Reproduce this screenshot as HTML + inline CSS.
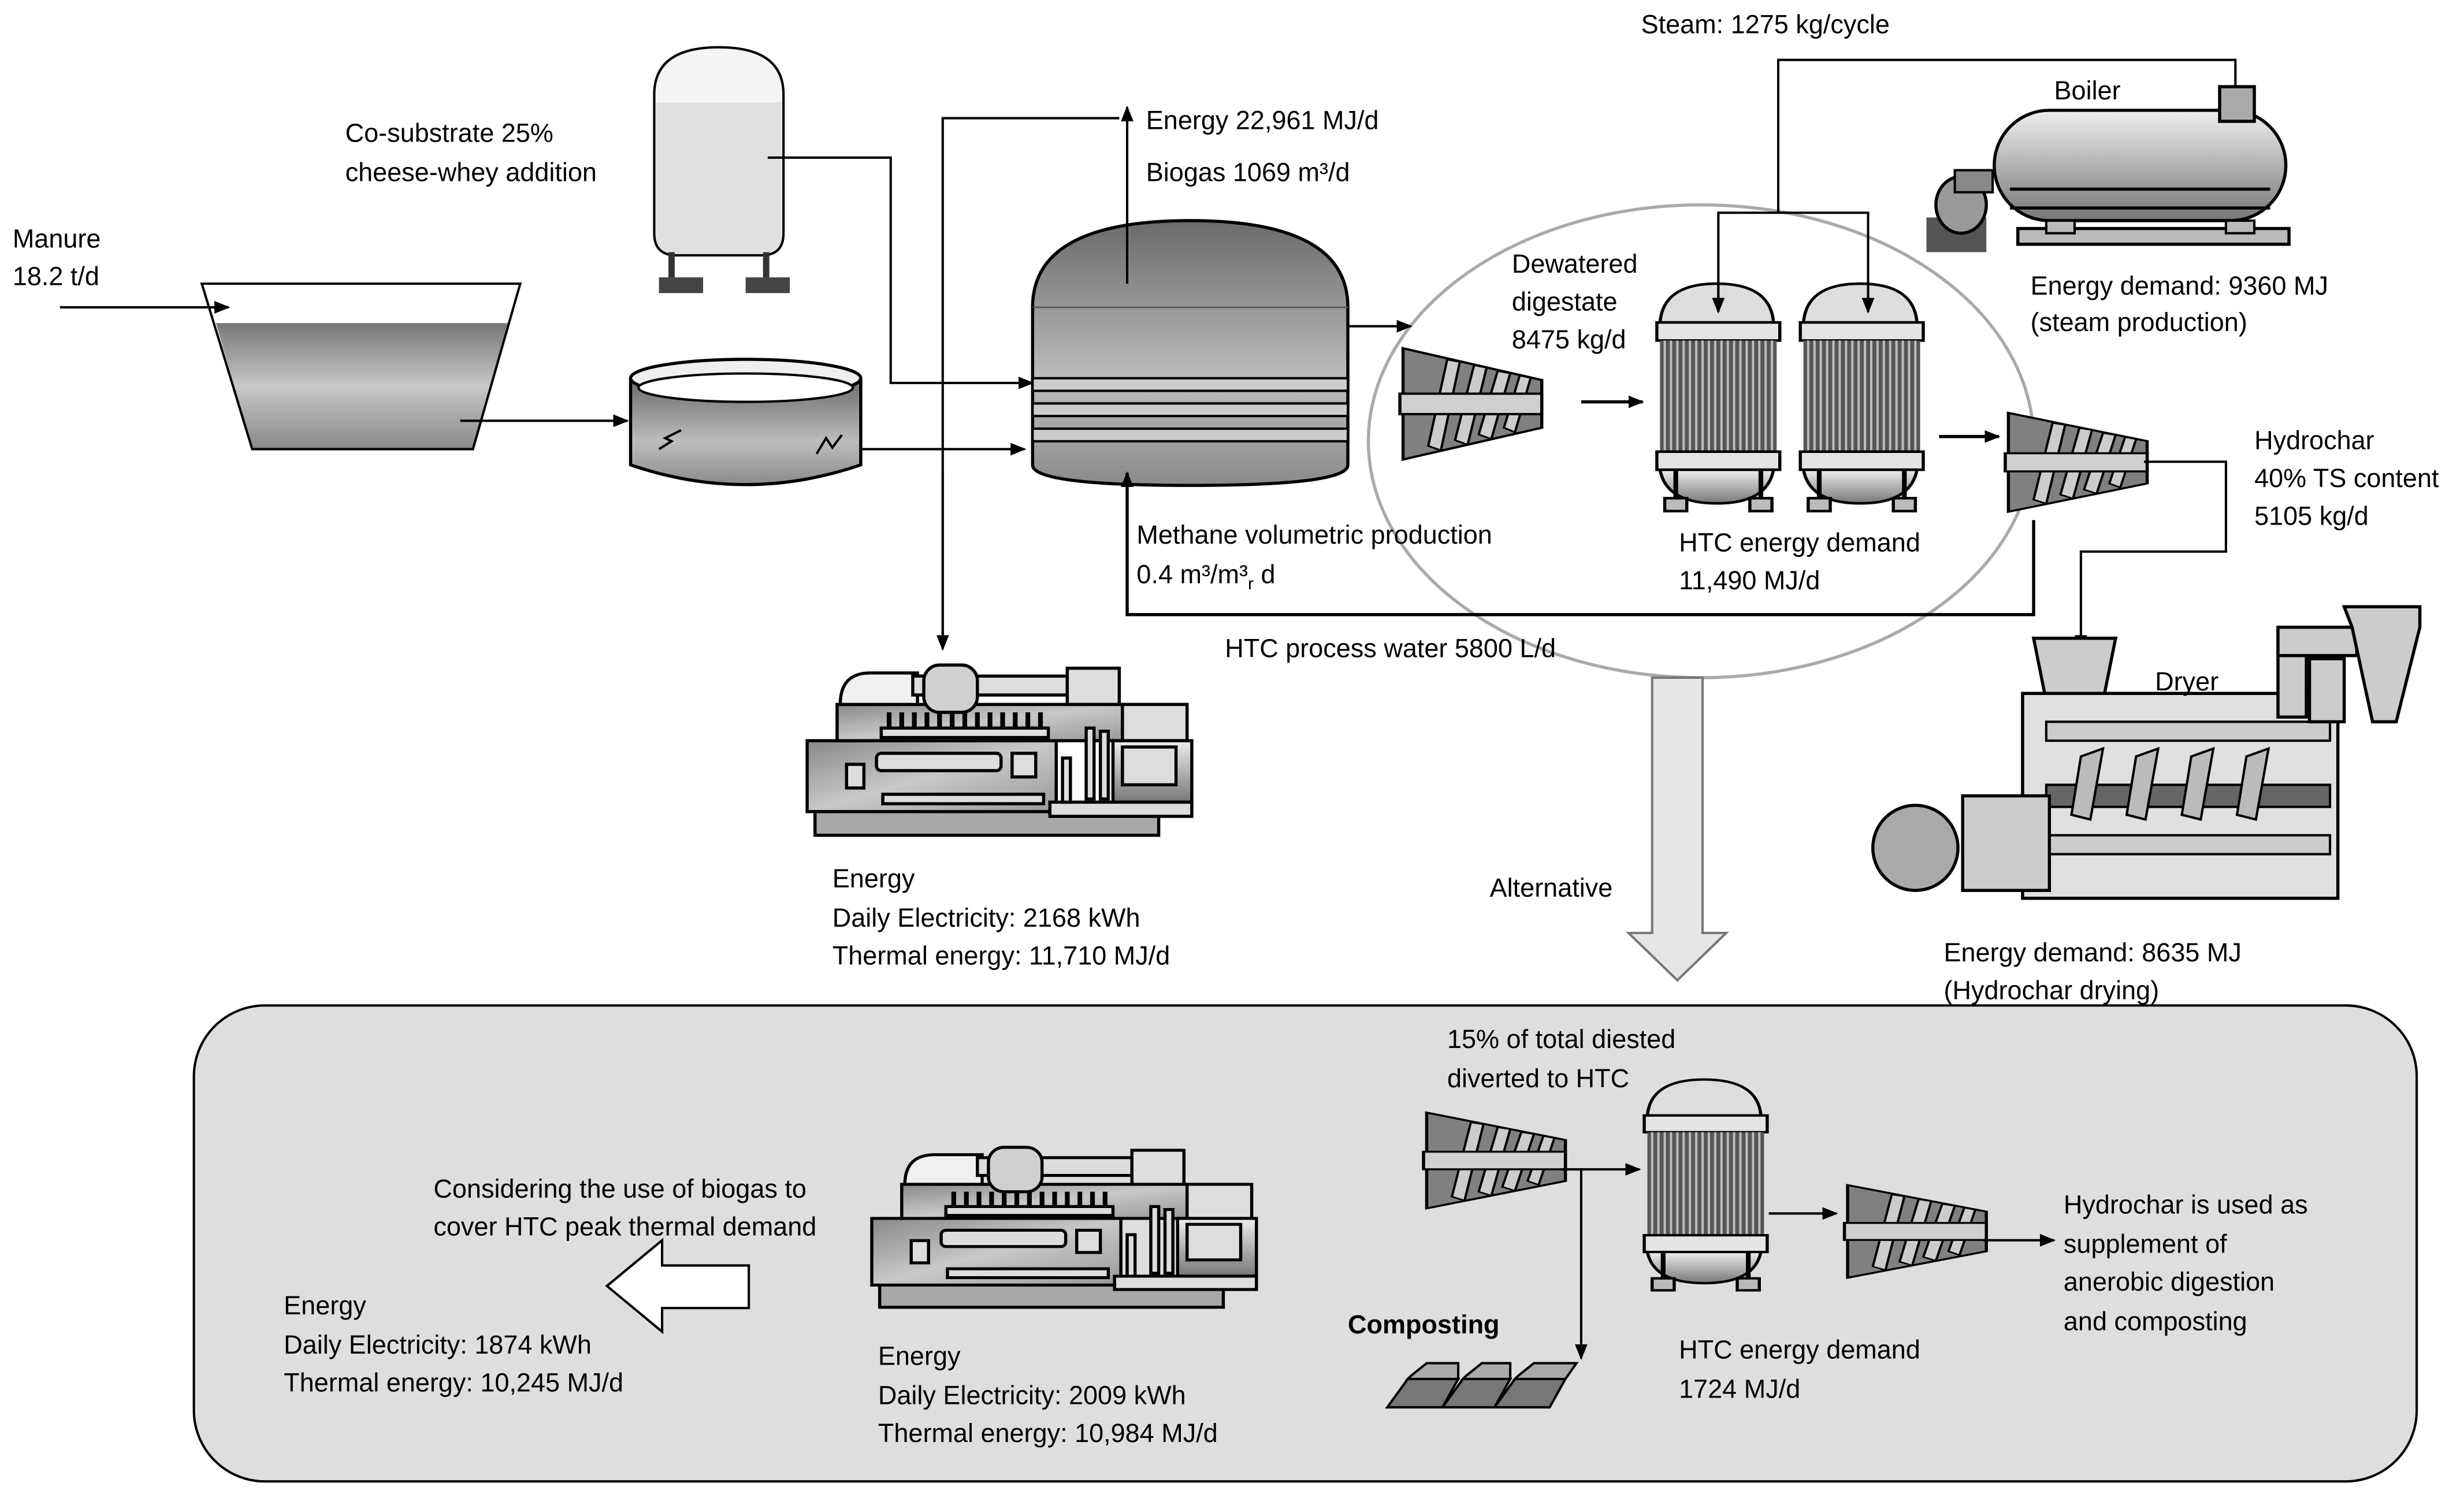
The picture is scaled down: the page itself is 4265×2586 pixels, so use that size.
<!DOCTYPE html>
<html><head><meta charset="utf-8"><style>
html,body{margin:0;padding:0;background:#fff;width:4265px;height:2586px;overflow:hidden}
svg{display:block}
text{font-family:"Liberation Sans",sans-serif;font-size:16.5px;fill:#000}
</style></head><body>
<svg width="4265" height="2586" viewBox="0 0 1563 948" preserveAspectRatio="none" xmlns="http://www.w3.org/2000/svg">
<defs>
<marker id="a" markerWidth="10" markerHeight="10" refX="9" refY="5" orient="auto" markerUnits="userSpaceOnUse"><path d="M0,1 L10,5 L0,9 Z" fill="#000"/></marker>
<linearGradient id="gv" x1="0" y1="0" x2="0" y2="1"><stop offset="0" stop-color="#777"/><stop offset="0.5" stop-color="#c8c8c8"/><stop offset="1" stop-color="#888"/></linearGradient>
<linearGradient id="gd" x1="0" y1="0" x2="0" y2="1"><stop offset="0" stop-color="#6a6a6a"/><stop offset="0.6" stop-color="#bdbdbd"/><stop offset="1" stop-color="#8a8a8a"/></linearGradient>
<linearGradient id="gh" x1="0" y1="0" x2="0" y2="1"><stop offset="0" stop-color="#eee"/><stop offset="1" stop-color="#777"/></linearGradient>
<linearGradient id="gc" x1="0" y1="0" x2="1" y2="1"><stop offset="0" stop-color="#888"/><stop offset="0.5" stop-color="#c8c8c8"/><stop offset="1" stop-color="#999"/></linearGradient>
<g id="press">
<path d="M0,0 L88,28 L88,70 L0,98 Z" fill="#808080" stroke="#000" stroke-width="2"/>
<g fill="#ccc" stroke="#000" stroke-width="1.5">
<path d="M28,10 l8,2 l-12,78 l-8,-4Z"/><path d="M45,15 l8,2 l-12,68 l-8,-4Z"/><path d="M60,20 l8,2 l-12,58 l-8,-4Z"/><path d="M74,24 l7,2 l-10,48 l-7,-4Z"/>
</g>
<rect x="-2" y="40" width="90" height="18" fill="#d0d0d0" stroke="#000" stroke-width="2"/>
</g>
<g id="reactor">
<path d="M2,30 Q4,0 38,0 Q72,0 74,30 Z" fill="#ddd" stroke="#000" stroke-width="2"/>
<rect x="0" y="30" width="78" height="14" fill="#e4e4e4" stroke="#000" stroke-width="2"/>
<rect x="2" y="44" width="74" height="86" fill="#555"/>
<g stroke="#bbb" stroke-width="1.5">
<path d="M5,44v86M9,44v86M13,44v86M17,44v86M21,44v86M25,44v86M29,44v86M33,44v86M37,44v86M41,44v86M45,44v86M49,44v86M53,44v86M57,44v86M61,44v86M65,44v86M69,44v86M73,44v86"/></g>
<rect x="0" y="130" width="78" height="14" fill="#e4e4e4" stroke="#000" stroke-width="2"/>
<path d="M2,144 Q6,170 38,170 Q70,170 74,144Z" fill="url(#gh)" stroke="#000" stroke-width="2"/>
<path d="M12,144v26M66,144v26" stroke="#000" stroke-width="3"/>
<rect x="5" y="166" width="14" height="10" fill="#bbb" stroke="#000" stroke-width="2"/><rect x="59" y="166" width="14" height="10" fill="#bbb" stroke="#000" stroke-width="2"/>
</g>
<g id="chp" stroke="#000" stroke-width="2">
<rect x="5" y="90" width="218" height="18" fill="#a8a8a8"/>
<rect x="0" y="48" width="158" height="45" fill="url(#gc)"/>
<rect x="19" y="25" width="181" height="23" fill="url(#gc)"/>
<rect x="200" y="25" width="41" height="23" fill="#ddd"/>
<rect x="194" y="48" width="50" height="39" fill="url(#gh)"/>
<rect x="200" y="52" width="34" height="24" fill="#ddd"/>
<rect x="154" y="87" width="90" height="9" fill="#ddd"/>
<path d="M21,25 Q21,5 40,5 L70,5 L70,25Z" fill="#f0f0f0"/>
<rect x="67" y="7" width="98" height="12" fill="#ddd"/>
<rect x="74" y="0" width="34" height="30" rx="10" fill="#d0d0d0"/>
<rect x="165" y="2" width="33" height="23" fill="#ddd"/>
<rect x="47" y="40" width="106" height="6" fill="#ddd"/>
<path d="M52,30v10M60,30v10M68,30v10M76,30v10M84,30v10M92,30v10M100,30v10M108,30v10M116,30v10M124,30v10M132,30v10M140,30v10M148,30v10" stroke-width="3"/>
<rect x="44" y="56" width="79" height="11" rx="3" fill="#ddd"/>
<rect x="130" y="56" width="15" height="15" fill="#ddd"/>
<rect x="25" y="63" width="11" height="15" fill="#ddd"/>
<rect x="48" y="82" width="102" height="6" fill="#ddd"/>
<rect x="162" y="59" width="5" height="28" fill="#ddd"/><rect x="177" y="40" width="5" height="45" fill="#ddd"/><rect x="186" y="42" width="5" height="43" fill="#ddd"/>
</g>
</defs>
<rect width="1563" height="948" fill="#fff"/>
<!-- bottom panel -->
<rect x="123" y="638" width="1410" height="302" rx="45" fill="#dedede" stroke="#000" stroke-width="1.5"/>
<!-- big ellipse -->
<ellipse cx="1079" cy="280" rx="211" ry="150" fill="none" stroke="#aaa" stroke-width="2"/>

<!-- manure -->
<text x="8" y="157">Manure</text><text x="8" y="181">18.2 t/d</text>
<line x1="38" y1="195" x2="145" y2="195" stroke="#000" stroke-width="1.5" marker-end="url(#a)"/>
<path d="M137,205 L322,205 L300,285 L160,285Z" fill="url(#gv)"/>
<path d="M128,180 L330,180 L300,285 L160,285Z" fill="none" stroke="#000" stroke-width="1.5"/>
<line x1="292" y1="267" x2="398" y2="267" stroke="#000" stroke-width="1.5" marker-end="url(#a)"/>
<!-- tank -->
<path d="M400,240 L400,295 Q473,320 546,295 L546,240" fill="url(#gd)" stroke="#000" stroke-width="2"/>
<ellipse cx="473" cy="240" rx="73" ry="12" fill="#eee" stroke="#000" stroke-width="2"/>
<ellipse cx="473" cy="246" rx="68" ry="9" fill="#fff" stroke="#000" stroke-width="1.5"/>
<path d="M418,285 l8,-5 l-4,-2 l10,-5" stroke="#000" fill="none" stroke-width="1.5"/>
<path d="M518,288 l6,-10 l4,6 l6,-8" stroke="#000" fill="none" stroke-width="1.5"/>
<line x1="546" y1="285" x2="650" y2="285" stroke="#000" stroke-width="1.5" marker-end="url(#a)"/>
<!-- whey vessel -->
<text x="219" y="90">Co-substrate 25%</text><text x="219" y="115">cheese-whey addition</text>
<path d="M415,60 Q415,30 456,30 Q497,30 497,60 L497,148 Q497,162 483,162 L429,162 Q415,162 415,148Z" fill="#f4f4f4" stroke="#000" stroke-width="1.5"/>
<path d="M416,65 L496,65 L496,148 Q496,161 483,161 L429,161 Q416,161 416,148Z" fill="#e0e0e0"/>
<path d="M426,160v16M486,160v16" stroke="#333" stroke-width="4"/>
<rect x="418" y="176" width="28" height="10" fill="#444"/><rect x="473" y="176" width="28" height="10" fill="#444"/>
<polyline points="487,100 565,100 565,243 655,243" fill="none" stroke="#000" stroke-width="1.5" marker-end="url(#a)"/>
<!-- digester -->
<path d="M655,195 Q655,140 755,140 Q855,140 855,195 L855,295 Q855,308 755,308 Q655,308 655,295Z" fill="url(#gd)" stroke="#000" stroke-width="2"/>
<line x1="655" y1="195" x2="855" y2="195" stroke="#555" stroke-width="1"/>
<g fill="#ccc" stroke="#000" stroke-width="1.5"><rect x="655" y="240" width="200" height="8"/><rect x="655" y="256" width="200" height="8"/><rect x="655" y="272" width="200" height="8"/></g>
<line x1="715" y1="180" x2="715" y2="68" stroke="#000" stroke-width="1.5" marker-end="url(#a)"/>
<polyline points="598,410 598,75 710,75" fill="none" stroke="#000" stroke-width="1.5"/>
<line x1="598" y1="300" x2="598" y2="412" stroke="#000" stroke-width="1.5" marker-end="url(#a)"/>
<text x="727" y="82">Energy 22,961 MJ/d</text>
<text x="727" y="115">Biogas 1069 m³/d</text>
<line x1="855" y1="207" x2="895" y2="207" stroke="#000" stroke-width="1.5" marker-end="url(#a)"/>
<text x="721" y="345">Methane volumetric production</text>
<text x="721" y="370">0.4 m³/m³<tspan font-size="11" dy="4">r</tspan><tspan dy="-4"> d</tspan></text>
<polyline points="1290,330 1290,390 715,390 715,300" fill="none" stroke="#000" stroke-width="2" marker-end="url(#a)"/>
<text x="777" y="417">HTC process water 5800 L/d</text>
<!-- press 1 -->
<use href="#press" transform="translate(890,221) scale(1,0.72)"/>
<text x="959" y="173">Dewatered</text><text x="959" y="197">digestate</text><text x="959" y="221">8475 kg/d</text>
<line x1="1003" y1="255" x2="1042" y2="255" stroke="#000" stroke-width="2" marker-end="url(#a)"/>
<!-- reactors -->
<use href="#reactor" transform="translate(1051,180) scale(1,0.82)"/>
<use href="#reactor" transform="translate(1142,180) scale(1,0.82)"/>
<polyline points="1128,135 1128,38 1418,38 1418,55" fill="none" stroke="#000" stroke-width="1.5"/>
<polyline points="1090,195 1090,135 1185,135 1185,195" fill="none" stroke="#000" stroke-width="1.5"/>
<line x1="1090" y1="180" x2="1090" y2="198" stroke="#000" stroke-width="1.5" marker-end="url(#a)"/>
<line x1="1185" y1="180" x2="1185" y2="198" stroke="#000" stroke-width="1.5" marker-end="url(#a)"/>
<text x="1041" y="21">Steam: 1275 kg/cycle</text>
<text x="1065" y="350">HTC energy demand</text><text x="1065" y="374">11,490 MJ/d</text>
<line x1="1230" y1="277" x2="1268" y2="277" stroke="#000" stroke-width="2" marker-end="url(#a)"/>
<!-- boiler -->
<rect x="1265" y="70" width="185" height="70" rx="35" fill="url(#gh)" stroke="#000" stroke-width="2"/>
<line x1="1275" y1="120" x2="1440" y2="120" stroke="#000" stroke-width="2"/>
<line x1="1275" y1="132" x2="1440" y2="132" stroke="#000" stroke-width="2"/>
<rect x="1408" y="55" width="22" height="22" fill="#aaa" stroke="#000" stroke-width="2"/>
<rect x="1280" y="145" width="172" height="10" fill="#bbb" stroke="#000" stroke-width="2"/>
<rect x="1298" y="140" width="18" height="8" fill="#bbb" stroke="#000" stroke-width="1.5"/><rect x="1412" y="140" width="18" height="8" fill="#bbb" stroke="#000" stroke-width="1.5"/>
<rect x="1222" y="138" width="38" height="22" fill="#555"/>
<ellipse cx="1244" cy="130" rx="16" ry="18" fill="#999" stroke="#000" stroke-width="2"/>
<rect x="1240" y="108" width="24" height="14" fill="#888" stroke="#000" stroke-width="1.5"/>
<text x="1303" y="63">Boiler</text>
<text x="1288" y="187">Energy demand: 9360 MJ</text><text x="1288" y="210">(steam production)</text>
<!-- press 2 -->
<use href="#press" transform="translate(1274,262) scale(1,0.64)"/>
<polyline points="1360,293 1412,293 1412,350 1320,350 1320,412" fill="none" stroke="#000" stroke-width="1.5" marker-end="url(#a)"/>
<text x="1430" y="285">Hydrochar</text><text x="1430" y="309">40% TS content</text><text x="1430" y="333">5105 kg/d</text>
<!-- dryer -->
<path d="M1290,405 L1342,405 L1335,440 L1297,440Z" fill="#ccc" stroke="#000" stroke-width="2"/>
<rect x="1283" y="440" width="200" height="130" fill="#e0e0e0" stroke="#000" stroke-width="2"/>
<rect x="1298" y="458" width="180" height="12" fill="#ccc" stroke="#000" stroke-width="1.5"/>
<rect x="1298" y="530" width="180" height="12" fill="#ccc" stroke="#000" stroke-width="1.5"/>
<rect x="1298" y="498" width="180" height="14" fill="#666" stroke="#000" stroke-width="1.5"/>
<g fill="#bbb" stroke="#000" stroke-width="1.5"><path d="M1320,480 l14,-5 l-8,45 l-12,-3Z"/><path d="M1355,480 l14,-5 l-8,45 l-12,-3Z"/><path d="M1390,480 l14,-5 l-8,45 l-12,-3Z"/><path d="M1425,480 l14,-5 l-8,45 l-12,-3Z"/></g>
<rect x="1245" y="505" width="55" height="60" fill="#ccc" stroke="#000" stroke-width="2"/>
<circle cx="1215" cy="538" r="27" fill="#aaa" stroke="#000" stroke-width="2"/>
<rect x="1445" y="400" width="18" height="55" fill="#ccc" stroke="#000" stroke-width="2"/>
<rect x="1445" y="398" width="50" height="18" fill="#ccc" stroke="#000" stroke-width="2"/>
<rect x="1465" y="418" width="22" height="40" fill="#ccc" stroke="#000" stroke-width="2"/>
<path d="M1487,385 L1535,385 L1535,398 L1520,458 L1505,458 L1492,398Z" fill="#ccc" stroke="#000" stroke-width="2"/>
<text x="1367" y="438">Dryer</text>
<text x="1233" y="610">Energy demand: 8635 MJ</text><text x="1233" y="634">(Hydrochar drying)</text>
<!-- CHP 1 -->
<use href="#chp" transform="translate(512,422)"/>
<text x="528" y="563">Energy</text><text x="528" y="588">Daily Electricity: 2168 kWh</text><text x="528" y="612">Thermal energy:  11,710 MJ/d</text>
<!-- big arrow -->
<path d="M1048,430 L1080,430 L1080,592 L1095,592 L1064,622 L1033,592 L1048,592Z" fill="#e6e6e6" stroke="#777" stroke-width="1.5"/>
<text x="945" y="569">Alternative</text>
<!-- bottom -->
<text x="275" y="760">Considering the use of biogas to</text><text x="275" y="784">cover HTC peak thermal demand</text>
<path d="M475,803 L475,830 L420,830 L420,845 L385,816 L420,787 L420,803Z" fill="#fff" stroke="#000" stroke-width="1.5"/>
<text x="180" y="834">Energy</text><text x="180" y="859">Daily Electricity: 1874 kWh</text><text x="180" y="883">Thermal energy:  10,245 MJ/d</text>
<use href="#chp" transform="translate(553,728) scale(1,0.94)"/>
<text x="557" y="866">Energy</text><text x="557" y="891">Daily Electricity: 2009 kWh</text><text x="557" y="915">Thermal energy:  10,984 MJ/d</text>
<text x="918" y="665">15% of total diested</text><text x="918" y="690">diverted to HTC</text>
<use href="#press" transform="translate(905,706) scale(1,0.62)"/>
<line x1="990" y1="742" x2="1040" y2="742" stroke="#000" stroke-width="1.5" marker-end="url(#a)"/>
<line x1="1003" y1="742" x2="1003" y2="862" stroke="#000" stroke-width="1.5" marker-end="url(#a)"/>
<use href="#reactor" transform="translate(1043,685) scale(1,0.76)"/>
<line x1="1122" y1="770" x2="1165" y2="770" stroke="#000" stroke-width="1.5" marker-end="url(#a)"/>
<use href="#press" transform="translate(1172,752) scale(1,0.6)"/>
<line x1="1258" y1="787" x2="1303" y2="787" stroke="#000" stroke-width="1.5" marker-end="url(#a)"/>
<text x="1309" y="770">Hydrochar is used as</text><text x="1309" y="795">supplement of</text><text x="1309" y="819">anerobic digestion</text><text x="1309" y="844">and composting</text>
<text x="1065" y="862">HTC energy demand</text><text x="1065" y="887">1724 MJ/d</text>
<text x="855" y="846" font-weight="bold" font-size="15">Composting</text>
<g fill="#777" stroke="#000" stroke-width="1.5">
<path d="M880,893 L893,875 L925,875 L915,893Z"/><path d="M915,893 L928,875 L958,875 L948,893Z"/><path d="M948,893 L961,875 L993,875 L983,893Z"/>
<path d="M895,873 L905,865 L925,865 L925,875 L893,875Z" fill="#aaa"/><path d="M930,873 L940,865 L958,865 L958,875 L928,875Z" fill="#aaa"/><path d="M963,873 L973,865 L1000,865 L993,875 L961,875Z" fill="#aaa"/>
</g>
</svg>
</body></html>
